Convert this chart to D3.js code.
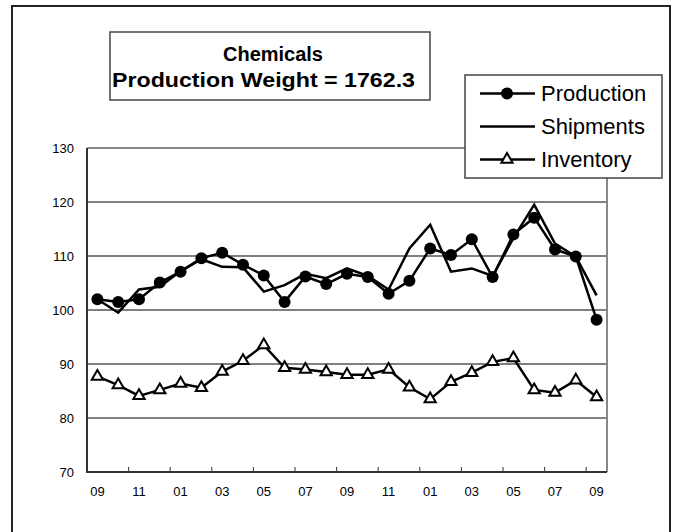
<!DOCTYPE html>
<html>
<head>
<meta charset="utf-8">
<script src="https://cdn.jsdelivr.net/npm/d3@7"></script>
<style>
  html, body { margin: 0; padding: 0; background: #fff; }
  svg { display: block; }
  text { font-family: "Liberation Sans", Arial, sans-serif; }
</style>
</head>
<body>
<svg id="chart" width="679" height="532"></svg>
<script>
// ---- data ----
const categories = ["09","10","11","12","01","02","03","04","05","06","07","08",
                    "09","10","11","12","01","02","03","04","05","06","07","08","09"];
const production = [102.0,101.5,102.0,105.1,107.1,109.6,110.6,108.4,106.4,101.5,106.2,104.8,
                    106.7,106.1,103.0,105.4,111.4,110.2,113.1,106.1,114.0,117.1,111.2,109.9,98.2];
const shipments  = [102.0,99.5,103.8,104.3,107.2,109.4,108.0,107.9,103.4,104.6,106.7,105.9,
                    107.7,106.3,103.8,111.4,115.8,107.1,107.7,106.3,113.3,119.5,112.3,109.9,102.7];
const inventory  = [87.7,86.1,84.1,85.2,86.4,85.6,88.6,90.6,93.5,89.3,89.0,88.5,
                    88.0,88.0,89.0,85.7,83.5,86.7,88.4,90.4,91.1,85.2,84.7,87.0,83.9];
const yTicks = [70,80,90,100,110,120,130];
const titleLines = ["Chemicals", "Production Weight = 1762.3"];
const seriesNames = ["Production","Shipments","Inventory"];

// ---- layout ----
const svg = d3.select("#chart");
const L = 87, R = 607, T = 148, B = 472;

const x = d3.scaleBand().domain(d3.range(categories.length)).range([L, R]).padding(0);
const cx = i => x(i) + x.bandwidth() / 2;
const y = d3.scaleLinear().domain([70, 130]).range([B, T]);

// outer chart border
svg.append("rect").attr("x", 12).attr("y", 6).attr("width", 658).attr("height", 540)
   .attr("fill", "none").attr("stroke", "#222").attr("stroke-width", 2);

// gridlines
svg.append("g").selectAll("line").data(yTicks.filter(v => v > 70 && v < 130)).join("line")
   .attr("x1", L).attr("x2", R).attr("y1", d => y(d)).attr("y2", d => y(d))
   .attr("stroke", "#000").attr("stroke-width", 1);

// plot border top/right (gray)
svg.append("path").attr("d", `M${L},${T}H${R}V${B}`).attr("fill", "none")
   .attr("stroke", "#888").attr("stroke-width", 2);

// y axis
const yAxis = d3.axisLeft(y).tickValues(yTicks).tickSize(0).tickPadding(13);
const gy = svg.append("g").attr("transform", `translate(${L},0)`).call(yAxis);
gy.select(".domain").remove();
gy.selectAll("text").attr("font-size", 13).attr("fill", "#000")
   .attr("font-family", "Liberation Sans, Arial, sans-serif");

// x axis labels (every 2nd category)
const xAxis = d3.axisBottom(x).tickValues(d3.range(0, categories.length, 2))
   .tickFormat(i => categories[i]).tickSize(0).tickPadding(15);
const gx = svg.append("g").attr("transform", `translate(0,${B})`).call(xAxis);
gx.select(".domain").remove();
gx.selectAll("text").attr("font-size", 13).attr("fill", "#000")
   .attr("font-family", "Liberation Sans, Arial, sans-serif");

// x tick marks at category boundaries (inside)
svg.append("g").selectAll("line").data(d3.range(2, categories.length, 2)).join("line")
   .attr("x1", i => x(i)).attr("x2", i => x(i)).attr("y1", B).attr("y2", B - 5)
   .attr("stroke", "#333").attr("stroke-width", 1);

// axis lines (left & bottom)
svg.append("path").attr("d", `M${L},${T}V${B}H${R}`).attr("fill", "none")
   .attr("stroke", "#333").attr("stroke-width", 2);

const line = d3.line().x((d, i) => cx(i)).y(d => y(d));

// Production
svg.append("path").datum(production).attr("d", line).attr("fill", "none")
   .attr("stroke", "#000").attr("stroke-width", 2.5);
svg.append("g").selectAll("circle").data(production).join("circle")
   .attr("cx", (d, i) => cx(i)).attr("cy", d => y(d)).attr("r", 6).attr("fill", "#000");

// Shipments
svg.append("path").datum(shipments).attr("d", line).attr("fill", "none")
   .attr("stroke", "#000").attr("stroke-width", 2.5);

// Inventory
const tri = d3.symbol().type(d3.symbolTriangle).size(55);
svg.append("path").datum(inventory).attr("d", line).attr("fill", "none")
   .attr("stroke", "#000").attr("stroke-width", 2.5);
svg.append("g").selectAll("path").data(inventory).join("path")
   .attr("d", tri).attr("transform", (d, i) => `translate(${cx(i)},${y(d)})`)
   .attr("fill", "#fff").attr("stroke", "#000").attr("stroke-width", 2);

// Title box
svg.append("rect").attr("x", 110).attr("y", 32).attr("width", 320).attr("height", 68)
   .attr("fill", "#fff").attr("stroke", "#444").attr("stroke-width", 1.5);
svg.append("text").attr("x", 223).attr("y", 61)
   .attr("font-size", 20).attr("font-weight", "bold")
   .attr("textLength", 100).attr("lengthAdjust", "spacingAndGlyphs").text(titleLines[0]);
svg.append("text").attr("x", 112).attr("y", 87)
   .attr("font-size", 20).attr("font-weight", "bold")
   .attr("textLength", 303).attr("lengthAdjust", "spacingAndGlyphs").text(titleLines[1]);

// Legend
const lg = svg.append("g");
lg.append("rect").attr("x", 465).attr("y", 75).attr("width", 197).attr("height", 103)
   .attr("fill", "#fff").attr("stroke", "#444").attr("stroke-width", 1.5);
const rowsY = [93.5, 126.5, 159.5];
seriesNames.forEach((name, k) => {
  const yy = rowsY[k];
  lg.append("line").attr("x1", 480).attr("x2", 535).attr("y1", yy).attr("y2", yy)
    .attr("stroke", "#000").attr("stroke-width", 2.5);
  if (k === 0) lg.append("circle").attr("cx", 507).attr("cy", yy).attr("r", 6).attr("fill", "#000");
  if (k === 2) lg.append("path").attr("d", tri).attr("transform", `translate(507,${yy})`)
      .attr("fill", "#fff").attr("stroke", "#000").attr("stroke-width", 2);
  lg.append("text").attr("x", 541).attr("y", yy).attr("dy", "0.36em")
    .attr("font-size", 22).text(name);
});
</script>
</body>
</html>
